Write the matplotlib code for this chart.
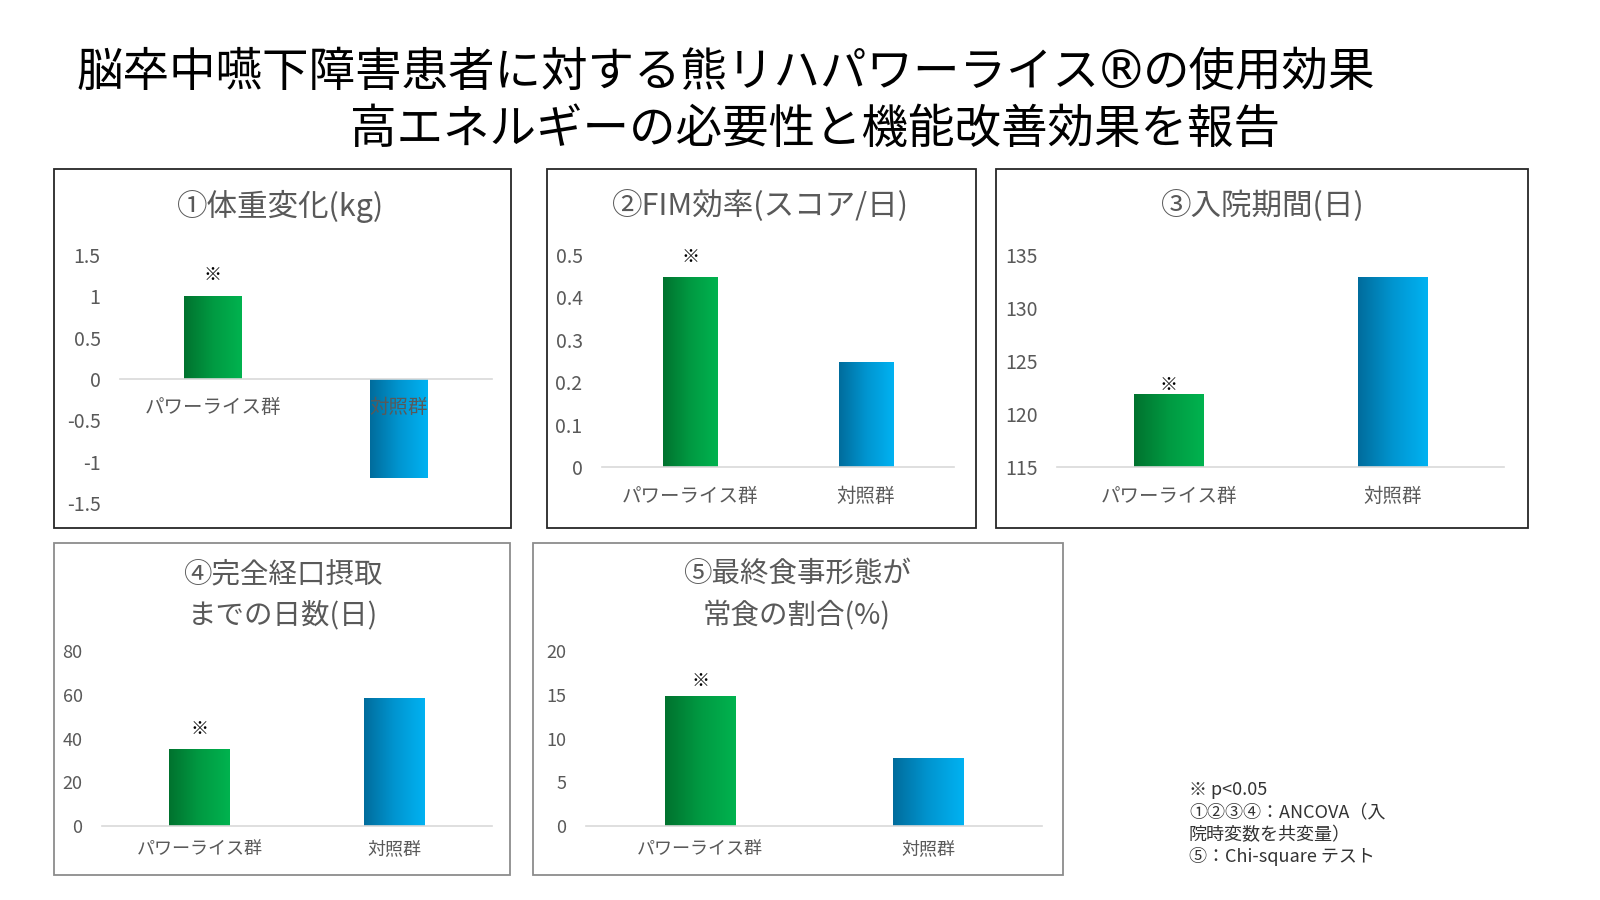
import numpy as np
import matplotlib.pyplot as plt
from matplotlib.patches import Rectangle
from matplotlib.colors import LinearSegmentedColormap
from matplotlib.ticker import FuncFormatter

plt.rcParams['font.family'] = ['Noto Sans CJK JP', 'DejaVu Sans']

# data
groups = ['パワーライス群', '対照群']
weight_change = [1.0, -1.2]
fim_efficiency = [0.447, 0.247]
hospital_days = [121.9, 132.9]
days_to_oral = [35.2, 58.4]
regular_diet_pct = [14.9, 7.8]
significant = ['※', '']

panel_titles = ['①体重変化(kg)', '②FIM効率(スコア/日)', '③入院期間(日)',
                '④完全経口摂取\nまでの日数(日)', '⑤最終食事形態が\n常食の割合(%)']
y_ticks = [(-1.5, 1.5, 0.5), (0, 0.5, 0.1), (115, 135, 5), (0, 80, 20), (0, 20, 5)]

title_parts = ['脳卒中嚥下障害患者に対する熊リハパワーライス', '®', 'の使用効果']
title_line2 = '高エネルギーの必要性と機能改善効果を報告'
note_lines = ['※ p<0.05', '①②③④：ANCOVA（入', '院時変数を共変量）', '⑤：Chi-square テスト']

W, H = 1600, 900
GREY = '#595959'
green_cm = LinearSegmentedColormap.from_list('g', ['#00722E', '#009A42', '#00B34F'])
blue_cm = LinearSegmentedColormap.from_list('b', ['#006C9C', '#0095D0', '#00B2F2'])


def fx(x):
    return x / W


def fy(y):
    return 1 - y / H


def rect(l, t, r, b):
    return [l / W, 1 - b / H, (r - l) / W, (b - t) / H]


fig = plt.figure(figsize=(16, 9), dpi=100)
renderer = fig.canvas.get_renderer()

# first title line in three pieces so the ® gets a full size circle
t1 = fig.text(fx(77), fy(73), title_parts[0], fontsize=33.5, ha='left', va='center')
x_end = t1.get_window_extent(renderer).x1
t2 = fig.text(x_end / W - 0.003, fy(73), title_parts[1], fontsize=38, family='DejaVu Sans',
              ha='left', va='center')
x_end = t2.get_window_extent(renderer).x1
fig.text(x_end / W - 0.003, fy(73), title_parts[2], fontsize=33.5, ha='left', va='center')
fig.text(fx(350), fy(130), title_line2, fontsize=33.5, ha='left', va='center')

# layout: frame box, axes box, title centre x, title y's, fonts, star offset
frames = [(54, 169, 511, 528), (547, 169, 976, 528), (996, 169, 1528, 528),
          (54, 543, 510, 875), (533, 543, 1063, 875)]
axes_px = [(120, 255, 492, 503), (602, 255, 954, 467), (1057, 255, 1504, 467),
           (102, 651, 492, 826), (586, 651, 1042, 826)]
title_x = [281, 760, 1263, 283, 797]
title_y = [[206], [206], [206], [574, 615], [574, 615]]
title_fs = [22, 22, 22, 20.5, 20.5]
label_fs = [14, 14, 14, 13, 13]
xpad = [13, 14, 14, 10, 10]
star_off = [21, 20, 9, 20, 15]
frame_col = ['#262626', '#262626', '#262626', '#8c8c8c', '#8c8c8c']

series = [weight_change, fim_efficiency, hospital_days, days_to_oral, regular_diet_pct]

for i, vals in enumerate(series):
    fl, ft, fr, fb = frames[i]
    fig.add_artist(Rectangle((fx(fl), fy(fb)), (fr - fl) / W, (fb - ft) / H,
                             transform=fig.transFigure, facecolor='white',
                             edgecolor=frame_col[i], lw=1.3, zorder=0))
    for line, yy in zip(panel_titles[i].split('\n'), title_y[i]):
        fig.text(fx(title_x[i]), fy(yy), line, fontsize=title_fs[i], color=GREY,
                 ha='center', va='center')

    ax = fig.add_axes(rect(*axes_px[i]))
    ax.patch.set_alpha(0)
    lo, hi, step = y_ticks[i]
    base = max(lo, 0)
    x = np.arange(len(groups))
    bars = ax.bar(x, np.array(vals) - base, bottom=base, width=0.31,
                  facecolor='none', edgecolor='none')
    for bar, cm in zip(bars, [green_cm, blue_cm]):
        bx, by = bar.get_x(), bar.get_y()
        bw, bh = bar.get_width(), bar.get_height()
        img = ax.imshow(np.linspace(0, 1, 256).reshape(1, -1), cmap=cm, aspect='auto',
                        extent=[bx, bx + bw, by, by + bh], zorder=1.5)
        img.set_clip_path(bar)
    for xi, v, s in zip(x, vals, significant):
        if s:
            ax.annotate(s, (xi, v), xytext=(0, star_off[i] / 1.389), textcoords='offset points',
                        ha='center', va='center', fontsize=13, color='black')

    ax.set_xlim(-0.5, 1.5)
    ax.set_ylim(lo, hi)
    ax.set_yticks(np.arange(lo, hi + step / 2, step))
    ax.yaxis.set_major_formatter(FuncFormatter(lambda v, p: f'{v:g}'.replace('−', '-')))
    ax.set_xticks(x)
    ax.set_xticklabels(groups)
    for side in ['top', 'left', 'right']:
        ax.spines[side].set_visible(False)
    ax.spines['bottom'].set_position(('data', base))
    ax.spines['bottom'].set_color('#d9d9d9')
    ax.spines['bottom'].set_linewidth(1.2)
    ax.tick_params(axis='y', length=0, pad=14, labelsize=label_fs[i], labelcolor=GREY)
    ax.tick_params(axis='x', length=0, pad=xpad[i], labelsize=label_fs[i], labelcolor=GREY)

for line, yy in zip(note_lines, [790, 813, 835, 857]):
    fig.text(fx(1189), fy(yy), line, fontsize=13, color='#333333', ha='left', va='center')

fig.savefig('out.png', dpi=100, facecolor='white')
